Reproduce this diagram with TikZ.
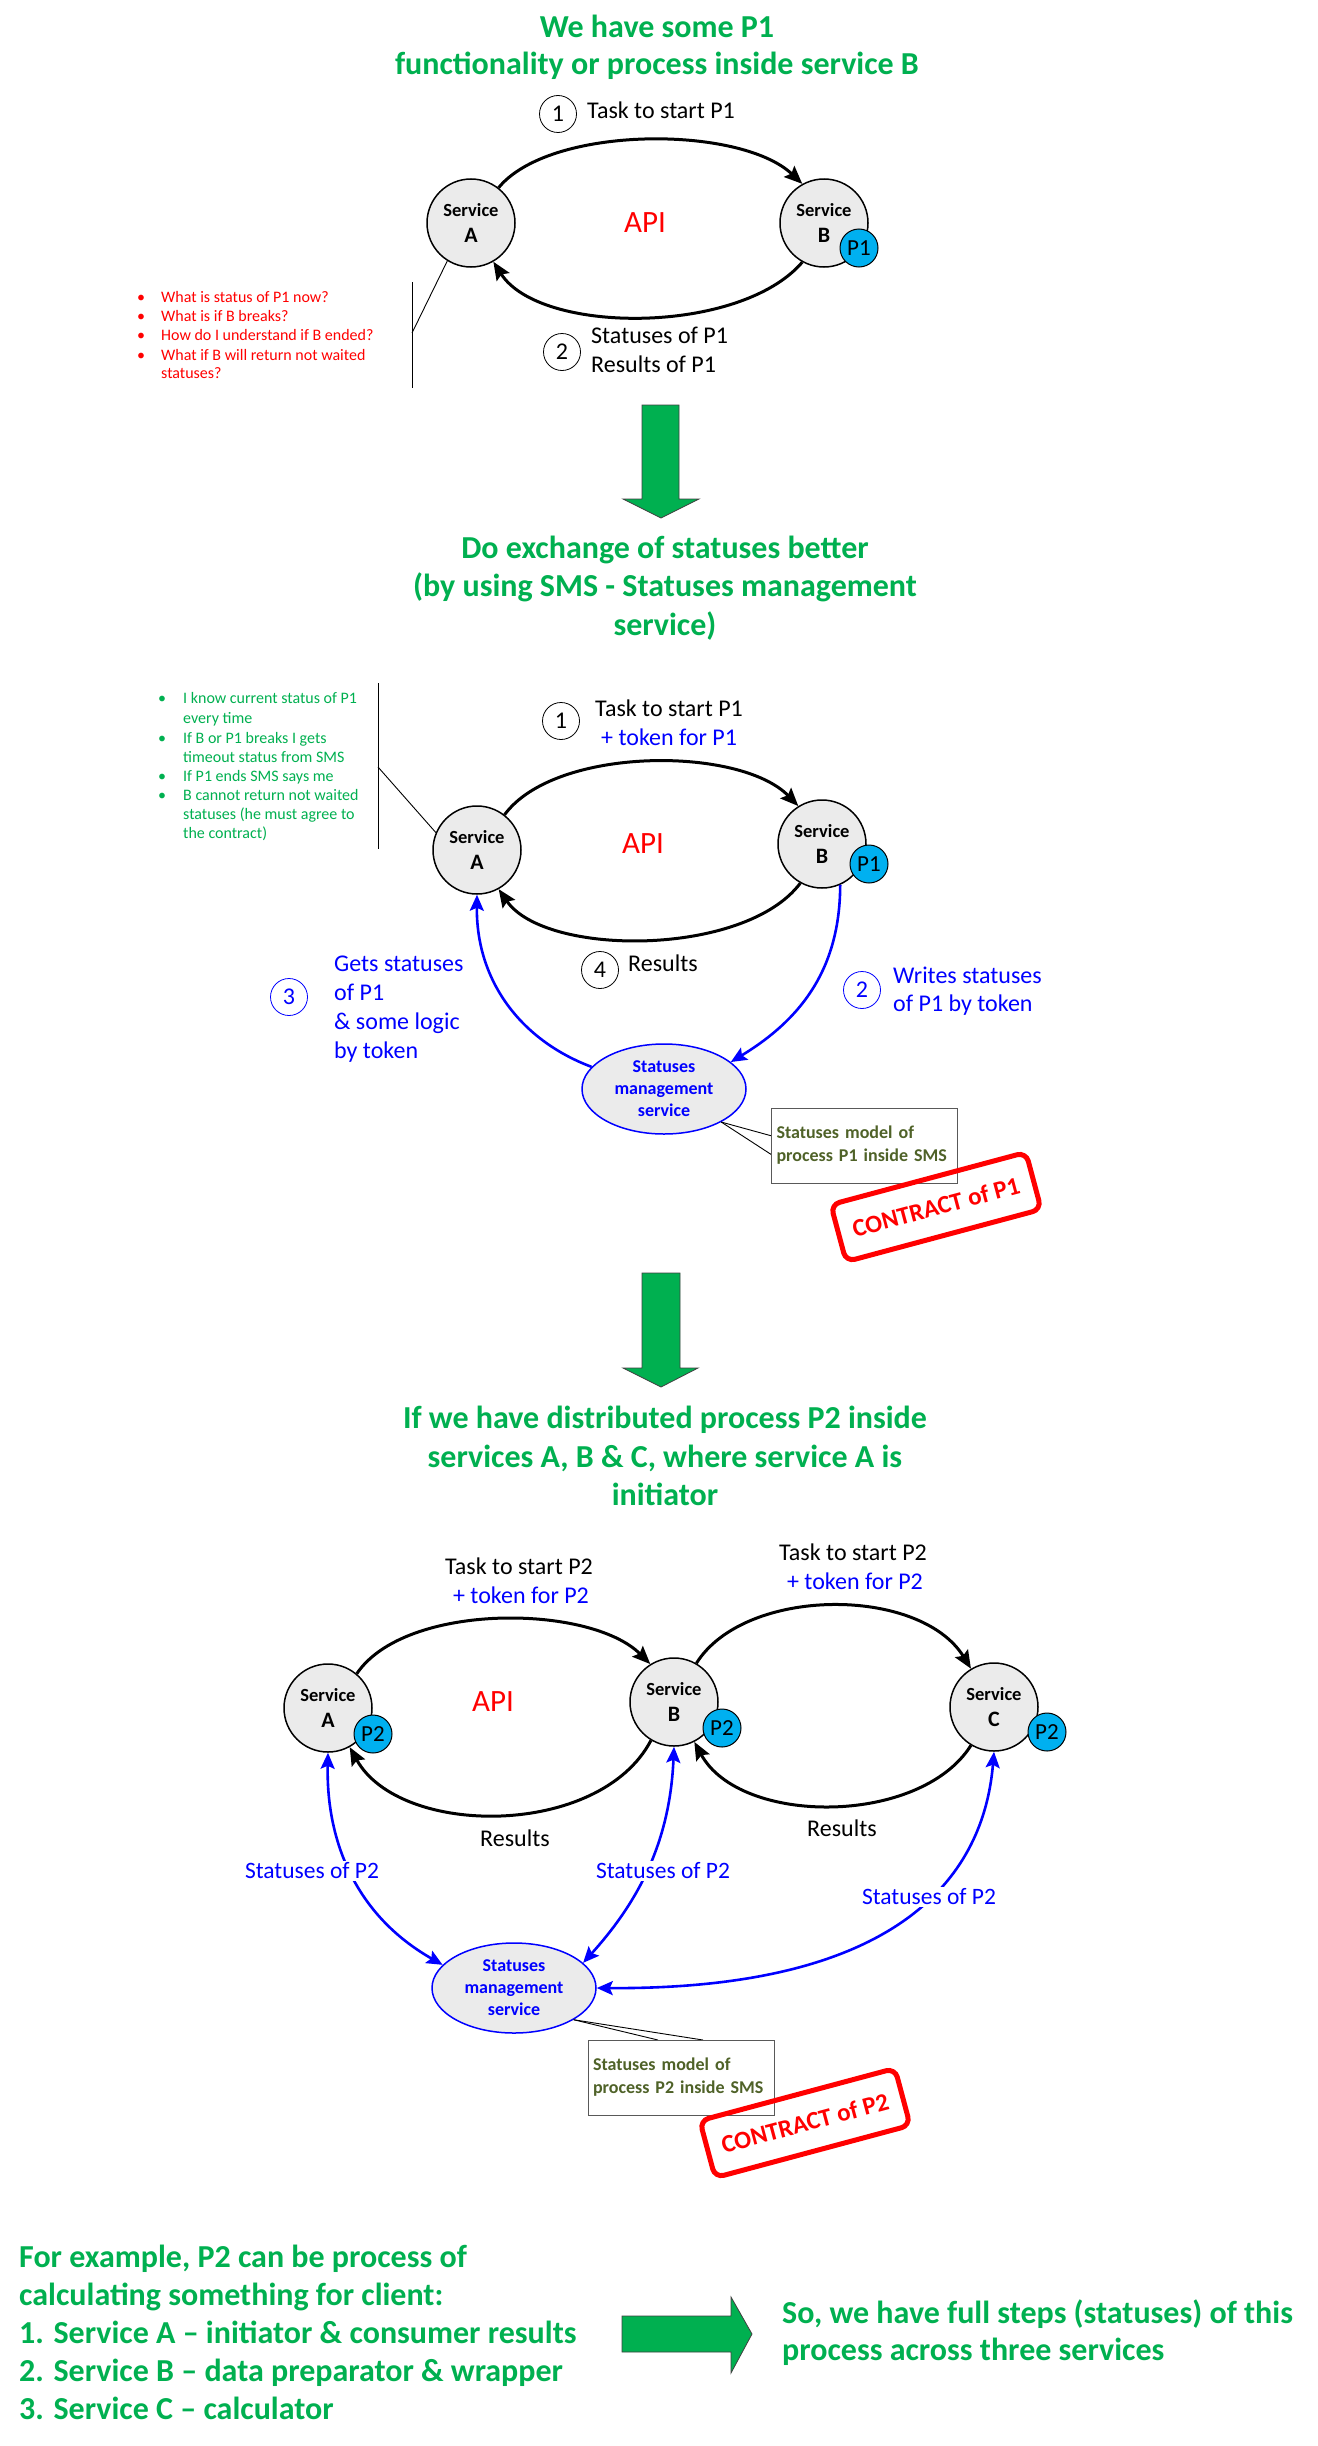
\documentclass[tikz,border=0pt]{standalone}
\usepackage{fontspec}
\setmainfont{Carlito}
\usetikzlibrary{arrows.meta,shapes.geometric}
\definecolor{tgreen}{HTML}{00B050}
\definecolor{tblue}{HTML}{0000FF}
\definecolor{tred}{HTML}{FF0000}
\definecolor{pcyan}{HTML}{00B0F0}
\definecolor{svcfill}{HTML}{EBEBEB}
\definecolor{olivetxt}{HTML}{4F6228}
\newcommand{\fs}[2]{\fontsize{#1}{#2}\selectfont}
\newcommand{\svcl}[1]{\fs{18.5}{22}Service\\[10pt]\fs{22}{22}#1}
\begin{document}
\begin{tikzpicture}[x=1pt,y=-1pt,
  title/.style={font=\bfseries\fs{32}{37}, text=tgreen, anchor=base, inner sep=0},
  btext/.style={font=\bfseries\fs{32}{37}, text=tgreen, anchor=base west, inner sep=0},
  svc/.style={circle, draw=black, line width=1.5pt, fill=svcfill, minimum size=88pt, inner sep=0, align=center, font=\bfseries},
  pc/.style={circle, draw=black, line width=1pt, fill=pcyan, minimum size=38pt, inner sep=0, font=\fs{23}{23}},
  num/.style={circle, draw=black, line width=0.8pt, minimum size=37pt, inner sep=0, font=\fs{24}{24}},
  bnum/.style={num, draw=tblue, text=tblue},
  lbl/.style={anchor=base west, inner sep=0, font=\fs{24}{24}},
  blbl/.style={lbl, text=tblue},
  api/.style={anchor=base, inner sep=0, text=tred, font=\fs{31}{31}},
  blk/.style={line width=3pt, -{Stealth[length=18pt,width=15pt,inset=3pt]}},
  blu/.style={line width=2.6pt, draw=tblue, -{Stealth[length=16pt,width=14pt,inset=3pt]}},
  blu2/.style={line width=2.6pt, draw=tblue, {Stealth[length=16pt,width=14pt,inset=3pt]}-{Stealth[length=16pt,width=14pt,inset=3pt]}},
  thinl/.style={line width=0.9pt, draw=black},
  rbul/.style={anchor=base, inner sep=0, text=tred, font=\fs{16}{16}},
  rtx/.style={anchor=base west, inner sep=0, text=tred, font=\fs{16}{16}},
  gbul/.style={anchor=base, inner sep=0, text=tgreen, font=\fs{16}{16}},
  gtx/.style={anchor=base west, inner sep=0, text=tgreen, font=\fs{16}{16}},
  sms/.style={ellipse, draw=tblue, line width=1.5pt, fill=svcfill, minimum width=164pt, minimum height=90pt, inner sep=0, align=center, text=tblue, font=\bfseries\fs{18}{22}},
  notebox/.style={rectangle, draw=black!65, line width=1pt, fill=white, minimum width=186pt, minimum height=75pt, text width=176pt, inner xsep=5pt, inner ysep=0, align=left, text=olivetxt, font=\bfseries\fs{18}{23}},
  stamp/.style={draw=tred, line width=5pt, rounded corners=9pt, minimum width=202pt, minimum height=59pt, text=tred, font=\bfseries\fs{25}{25}, rotate=15, inner sep=0},
  garrow/.style={fill=tgreen, draw=black!75, line width=0.8pt},
  slbl/.style={fill=white, inner sep=2pt, text=tblue, font=\fs{23.5}{23.5}}
]
\useasboundingbox[fill=white] (0,0) rectangle (1317,2446);

% ===== Section 1 =====
\node[title] (t1a) at (657,38) {We have some P1};
\node[title] (t1b) at (657,75) {functionality or process inside service B};
\node[num] (n11) at (558,114) {1};
\node[lbl] (l11) at (587,119) {Task to start P1};
\node[svc] (A1) at (471,223) {\svcl{A}};
\node[svc] (B1) at (824,223) {\svcl{B}};
\node[pc] (P1a) at (859,248) {P1};
\node[api] (api1) at (645,232) {API};
\draw[blk] (A1.52) .. controls (550,125) and (740,125) .. (B1.119);
\draw[blk] (B1.241) .. controls (740,335) and (540,335) .. (A1.300);
\node[num] (n12) at (562,352) {2};
\node[lbl] (l12a) at (591,343) {Statuses of P1};
\node[lbl] (l12b) at (591,372) {Results of P1};

\coordinate (v1t) at (412,282);
\coordinate (v1b) at (412,388);
\coordinate (v1m) at (412,333);
\draw[thinl] (v1t) -- (v1b);
\draw[thinl] (A1.238) -- (v1m);

\node[rbul] (rb1) at (141,302) {•};
\node[rtx] (rt1) at (161,302) {What is status of P1 now?};
\node[rbul] (rb2) at (141,321) {•};
\node[rtx] (rt2) at (161,321) {What is if B breaks?};
\node[rbul] (rb3) at (141,340) {•};
\node[rtx] (rt3) at (161,340) {How do I understand if B ended?};
\node[rbul] (rb4) at (141,360) {•};
\node[rtx] (rt4) at (161,360) {What if B will return not waited};
\node[rtx] (rt5) at (161,378) {statuses?};

% green arrow 1
\draw[garrow] (642,405) -- (679,405) -- (679,499) -- (699,499) -- (661,518) -- (623,499) -- (642,499) -- cycle;

% ===== Section 2 =====
\node[title] (t2a) at (665,558) {Do exchange of statuses better};
\node[title] (t2b) at (665,596) {(by using SMS - Statuses management};
\node[title] (t2c) at (665,635) {service)};

\node[gbul] (gb1) at (162,703) {•};
\node[gtx] (gt1) at (183,703) {I know current status of P1};
\node[gtx] (gt2) at (183,723) {every time};
\node[gbul] (gb3) at (162,743) {•};
\node[gtx] (gt3) at (183,743) {If B or P1 breaks I gets};
\node[gtx] (gt4) at (183,762) {timeout status from SMS};
\node[gbul] (gb5) at (162,781) {•};
\node[gtx] (gt5) at (183,781) {If P1 ends SMS says me};
\node[gbul] (gb6) at (162,800) {•};
\node[gtx] (gt6) at (183,800) {B cannot return not waited};
\node[gtx] (gt7) at (183,819) {statuses (he must agree to};
\node[gtx] (gt8) at (183,838) {the contract)};

\node[num] (n21) at (561,721) {1};
\node[lbl] (l21a) at (595,716) {Task to start P1};
\node[blbl] (l21b) at (601,745) {+ token for P1};
\node[svc] (A2) at (477,850) {\svcl{A}};
\node[svc] (B2) at (822,844) {\svcl{B}};
\node[pc] (P1b) at (869,864) {P1};
\node[api] (api2) at (643,853) {API};
\draw[blk] (A2.52) .. controls (555,746) and (740,746) .. (B2.122);
\draw[blk] (B2.241) .. controls (745,957) and (545,957) .. (A2.299);
\node[num] (n24) at (600,970) {4};
\node[lbl] (l24) at (628,971) {Results};

\node[sms] (S1) at (664,1089) {Statuses\\management\\service};
\draw[blu] (B2.294) .. controls (840,970) and (800,1020) .. (S1.22);
\draw[blu] (S1.163) .. controls (520,1040) and (476,980) .. (A2.270);

\node[bnum] (n22) at (862,990) {2};
\node[blbl] (l22a) at (893,983) {Writes statuses};
\node[blbl] (l22b) at (893,1011) {of P1 by token};
\node[bnum] (n23) at (289,997) {3};
\node[blbl] (l23a) at (334,971) {Gets statuses};
\node[blbl] (l23b) at (334,1000) {of P1};
\node[blbl] (l23c) at (334,1029) {\& some logic};
\node[blbl] (l23d) at (334,1058) {by token};

\coordinate (v2t) at (378,683);
\coordinate (v2b) at (378,849);
\coordinate (v2m) at (378,767);
\draw[thinl] (v2t) -- (v2b);
\draw[thinl] (A2.157) -- (v2m);

\coordinate (w1a) at (772,1136);
\coordinate (w1b) at (772,1155);
\draw[thinl] (S1.330) -- (w1a);
\draw[thinl] (S1.330) -- (w1b);
\node[notebox] (nb1) at (864.5,1145.5) {Statuses model of\\process P1 inside SMS};
\node[stamp] (st1) at (936,1207) {CONTRACT of P1};

% green arrow 2
\draw[garrow] (642,1273) -- (680,1273) -- (680,1368) -- (698,1368) -- (661,1387) -- (623,1368) -- (642,1368) -- cycle;

% ===== Section 3 =====
\node[title] (t3a) at (665,1428) {If we have distributed process P2 inside};
\node[title] (t3b) at (665,1467) {services A, B \& C, where service A is};
\node[title] (t3c) at (665,1505) {initiator};

\node[svc] (A3) at (328,1708) {\svcl{A}};
\node[svc] (B3) at (674,1702) {\svcl{B}};
\node[svc] (C3) at (994,1707) {\svcl{C}};
\node[pc] (P2a) at (373,1734) {P2};
\node[pc] (P2b) at (722,1728) {P2};
\node[pc] (P2c) at (1047,1732) {P2};
\node[api] (api3) at (493,1711) {API};

\draw[blk] (A3.50) .. controls (405,1602) and (590,1604) .. (B3.122);
\draw[blk] (B3.239) .. controls (600,1838) and (400,1838) .. (A3.299);
\draw[blk] (B3.60) .. controls (745,1586) and (920,1586) .. (C3.121);
\draw[blk] (C3.239) .. controls (920,1826) and (740,1826) .. (B3.297);

\node[lbl, anchor=base] (l31a) at (519,1574) {Task to start P2};
\node[blbl, anchor=base] (l31b) at (521,1603) {+ token for P2};
\node[lbl, anchor=base] (l32a) at (853,1560) {Task to start P2};
\node[blbl, anchor=base] (l32b) at (855,1589) {+ token for P2};
\node[lbl] (l33) at (480,1846) {Results};
\node[lbl] (l34) at (807,1836) {Results};

\node[sms] (S2) at (514,1988) {Statuses\\management\\service};
\draw[blu2] (A3.270) .. controls (326,1840) and (355,1915) .. (S2.162);
\draw[blu2] (B3.270) .. controls (670,1840) and (640,1900) .. (S2.20);
\draw[blu2] (C3.270) .. controls (985,1860) and (920,1990) .. (S2.0);
\node[slbl] (s31) at (312,1871) {Statuses of P2};
\node[slbl] (s32) at (663,1871) {Statuses of P2};
\node[slbl] (s33) at (929,1897) {Statuses of P2};

\coordinate (w2a) at (658,2040);
\coordinate (w2b) at (703,2040);
\draw[thinl] (S2.332) -- (w2a);
\draw[thinl] (S2.332) -- (w2b);
\node[notebox] (nb2) at (681,2077.5) {Statuses model of\\process P2 inside SMS};
\node[stamp] (st2) at (805,2123) {CONTRACT of P2};

% ===== Bottom =====
\node[btext] (b1) at (19,2267) {For example, P2 can be process of};
\node[btext] (b2) at (19,2305) {calculating something for client:};
\node[btext] (b3) at (19,2343) {1. Service A – initiator \& consumer results};
\node[btext] (b4) at (19,2381) {2. Service B – data preparator \& wrapper};
\node[btext] (b5) at (19,2419) {3. Service C – calculator};
\draw[garrow] (622,2316) -- (731,2316) -- (731,2297) -- (752,2334) -- (731,2373) -- (731,2352) -- (622,2352) -- cycle;
\node[btext] (r1) at (782,2323) {So, we have full steps (statuses) of this};
\node[btext] (r2) at (782,2360) {process across three services};
\end{tikzpicture}
\end{document}
